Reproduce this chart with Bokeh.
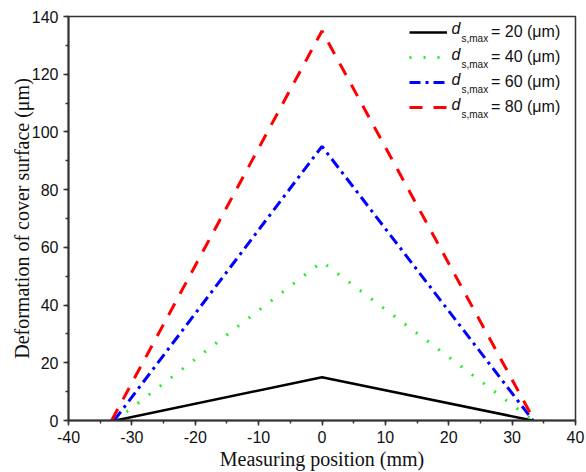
from bokeh.plotting import figure
from bokeh.models import Legend, LegendItem, Label, FixedTicker
from bokeh.embed import file_html
from bokeh.resources import INLINE

# data
x_black = [-32.6, 0, 33.2]
y_black = [0, 15, 0]
x_green = [-32.6, 0, 33.3]
y_green = [0, 55, 0]
x_blue = [-32.8, 0, 33.3]
y_blue = [0, 95, 0]
x_red = [-33.2, 0, 33.5]
y_red = [0, 135, 0]
legend_values = ["20", "40", "60", "80"]
x_ticks = list(range(-40, 41, 10))
y_ticks = list(range(0, 141, 20))

p = figure(width=586, height=472, output_backend="svg", toolbar_location=None,
           x_range=(-40, 40), y_range=(0, 140),
           min_border_left=68, min_border_right=11, min_border_top=16, min_border_bottom=51)
p.background_fill_color = "white"
p.border_fill_color = "white"
p.outline_line_color = "#333333"
p.outline_line_width = 1.5
p.xgrid.visible = False
p.ygrid.visible = False

r_black = p.line(x_black, y_black, line_color="black", line_width=2.5)
r_green = p.line(x_green, y_green, line_color="#22ee22", line_width=3, line_dash="2 12")
r_blue = p.line(x_blue, y_blue, line_color="#0000ff", line_width=3, line_dash="11 5 3 5")
r_red = p.line(x_red, y_red, line_color="#ff0000", line_width=3, line_dash="13 11")

for ax in (p.xaxis[0], p.yaxis[0]):
    ax.axis_line_width = 2
    ax.axis_line_color = "#333333"
    ax.major_tick_line_color = "#333333"
    ax.minor_tick_line_color = "#333333"
    ax.major_tick_line_width = 1.5
    ax.minor_tick_line_width = 1.5
    ax.major_tick_out = 5
    ax.major_tick_in = 0
    ax.minor_tick_out = 3
    ax.minor_tick_in = 0
    ax.major_label_text_font = "Liberation Sans"
    ax.major_label_text_font_size = "16px"
    ax.major_label_text_color = "#111111"
    ax.axis_label_text_font = "Liberation Serif"
    ax.axis_label_text_font_size = "20px"
    ax.axis_label_text_font_style = "normal"
    ax.axis_label_text_color = "#111111"

p.xaxis.ticker = FixedTicker(ticks=x_ticks, minor_ticks=list(range(-40, 41, 5)))
p.yaxis.ticker = FixedTicker(ticks=y_ticks, minor_ticks=list(range(0, 141, 10)))
p.xaxis.major_label_overrides = {t: str(t) for t in x_ticks}
p.xaxis.axis_label = "Measuring position (mm)"
p.yaxis.axis_label = "Deformation of cover surface (μm)"
p.xaxis.major_label_standoff = 5
p.yaxis.major_label_standoff = 5
p.xaxis.axis_label_standoff = 2
p.yaxis.axis_label_standoff = -4

items = [LegendItem(label="= %s (μm)" % v, renderers=[r]) for v, r in
         zip(legend_values, [r_black, r_green, r_blue, r_red])]
legend = Legend(items=items, location=(341, 302), border_line_color=None,
                background_fill_alpha=0, padding=0, margin=0, spacing=3,
                glyph_width=38, glyph_height=22, label_height=22,
                label_standoff=44, label_text_font="Liberation Sans",
                label_text_font_size="16px", label_text_color="#111111")
p.add_layout(legend)

row_y = [33, 59, 84, 109]  # canvas px from top
for yc in row_y:
    p.add_layout(Label(x=451 - 68, y=(421 - yc) - 4, x_units="screen", y_units="screen",
                       text="d", text_font="Liberation Sans", text_font_style="italic",
                       text_font_size="16px", text_color="#111111", text_baseline="bottom"))
    p.add_layout(Label(x=461 - 68, y=(421 - yc) - 11, x_units="screen", y_units="screen",
                       text="s,max", text_font="Liberation Sans",
                       text_font_size="10px", text_color="#111111", text_baseline="bottom"))

open("out.html", "w").write(file_html(p, INLINE))
